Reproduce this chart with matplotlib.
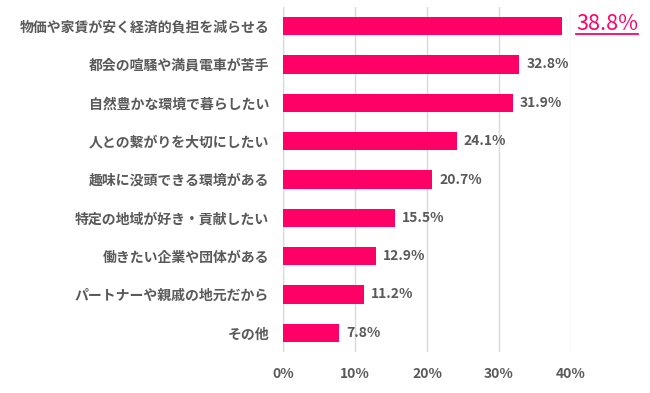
import matplotlib
matplotlib.use("Agg")
import matplotlib.pyplot as plt
from matplotlib.lines import Line2D

categories = ["物価や家賃が安く経済的負担を減らせる", "都会の喧騒や満員電車が苦手", "自然豊かな環境で暮らしたい",
              "人との繋がりを大切にしたい", "趣味に没頭できる環境がある", "特定の地域が好き・貢献したい",
              "働きたい企業や団体がある", "パートナーや親戚の地元だから", "その他"]
values = [38.8, 32.8, 31.9, 24.1, 20.7, 15.5, 12.9, 11.2, 7.8]
xticks = [0, 10, 20, 30, 40]
xtick_labels = ["0%", "10%", "20%", "30%", "40%"]

plt.rcParams['font.family'] = ['Noto Sans CJK JP', 'DejaVu Sans']
pink = "#FF0066"
gray = "#595959"

fig = plt.figure(figsize=(6.5, 3.93), dpi=100)
ax = fig.add_axes([283/650, 1-352/393, (571-283)/650, (352-7)/393])

ypos = list(range(len(categories)))
ax.barh(ypos, values, height=0.47, color=pink, zorder=3)
ax.set_ylim(len(categories)-0.5, -0.5)
ax.set_xlim(0, 40)
ax.set_xticks(xticks)
ax.set_xticklabels(xtick_labels, fontsize=10, fontweight='bold', color=gray)
ax.set_yticks(ypos)
ax.set_yticklabels(categories, fontsize=10, fontweight='bold', color=gray)
ax.tick_params(length=0, pad=11)
ax.tick_params(axis='y', pad=10)
ax.grid(axis='x', color='#D9D9D9', linewidth=1, zorder=0)
for s in ax.spines.values():
    s.set_visible(False)
ax.axvline(0, color='#D9D9D9', linewidth=1, zorder=1)

for i, v in enumerate(values):
    if i == 0:
        t = ax.text(v + 1.9, i - 0.05, f"{v}%", va='center', ha='left', fontsize=15.5, color=pink)
    else:
        ax.text(v + 1.0, i, f"{v}%", va='center', ha='left', fontsize=10, fontweight='bold', color=gray)

fig.canvas.draw()
bb = t.get_window_extent(fig.canvas.get_renderer())
inv = fig.transFigure.inverted()
(x0, y0), (x1, y1) = inv.transform([(bb.x0, bb.y0), (bb.x1, bb.y0)])
fig.add_artist(Line2D([x0, x1], [y0 + 0.004, y0 + 0.004], color=pink, linewidth=1.3))

fig.savefig("out.png", dpi=100)
